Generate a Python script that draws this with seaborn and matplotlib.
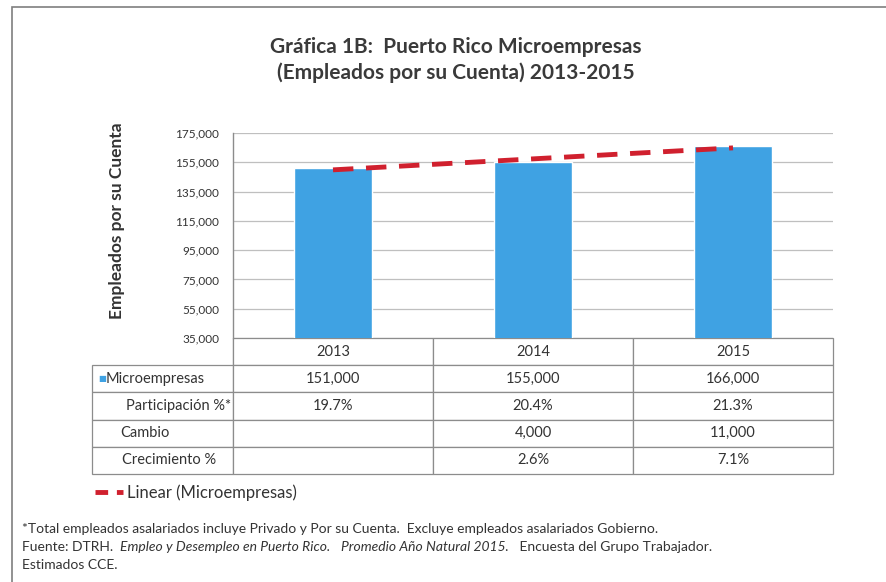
import numpy as np
import pandas as pd
import matplotlib
matplotlib.use("Agg")
import matplotlib.pyplot as plt
import seaborn as sns
from matplotlib.lines import Line2D
from matplotlib.patches import Rectangle

years = ["2013", "2014", "2015"]
microempresas = [151000, 155000, 166000]
participacion = ["19.7%", "20.4%", "21.3%"]
cambio = ["", "4,000", "11,000"]
crecimiento = ["", "2.6%", "7.1%"]
row_labels = ["Microempresas", "Participación %*", "Cambio", "Crecimiento %"]
yticks = list(range(35000, 175001, 20000))

bar_color = "#3FA2E3"
trend_color = "#D0202E"
grid_color = "#BFBFBF"
text_color = "#333333"

sns.set_theme(style="white")
plt.rcParams["font.family"] = ["Lato", "DejaVu Sans"]

df = pd.DataFrame({"Year": years, "Microempresas": microempresas})

fig = plt.figure(figsize=(8.87, 5.82), dpi=100)
ax = fig.add_axes([233 / 887, 1 - 338 / 582, 600 / 887, 205 / 582])

sns.barplot(data=df, x="Year", y="Microempresas", color=bar_color,
            width=0.39, saturation=1, ax=ax, zorder=2)

# linear trendline (Excel style)
xs = np.arange(len(years))
slope, intercept = np.polyfit(xs, microempresas, 1)
ax.plot(xs, slope * xs + intercept, color=trend_color, lw=3.5,
        dashes=(4.2, 2.6), zorder=3)

ax.set_xlim(-0.5, len(years) - 0.5)
ax.set_ylim(35000, 175000)
ax.set_yticks(yticks)
ax.set_yticklabels([f"{v:,}" for v in yticks], fontsize=8.5, color=text_color)
ax.tick_params(axis="y", length=0, pad=10)
ax.set_xticks([])
ax.set_xlabel("")
ax.set_ylabel("Empleados por su Cuenta", fontsize=12.5, fontweight="bold",
              color=text_color)
ax.yaxis.set_label_coords(-0.18, 0.57)
ax.grid(axis="y", color=grid_color, lw=0.9, zorder=0)
ax.set_axisbelow(True)
for s in ["top", "right", "bottom"]:
    ax.spines[s].set_visible(False)
ax.spines["left"].set_color("#8C8C8C")
ax.spines["left"].set_linewidth(1)

# data table under the plot
cell_text = [[""] + years,
             [row_labels[0]] + [f"{v:,}" for v in microempresas],
             [row_labels[1]] + participacion,
             [row_labels[2]] + cambio,
             [row_labels[3]] + crecimiento]
tbl = ax.table(cellText=cell_text, colWidths=[141, 200, 200, 200],
               cellLoc="center", bbox=[-141 / 600, -136 / 205, 741 / 600, 136 / 205])
tbl.auto_set_font_size(False)
tbl.set_fontsize(10.5)
pads = {1: 0.1, 2: 0.24, 3: 0.2, 4: 0.21}
for (r, c), cell in tbl.get_celld().items():
    cell.set_edgecolor("#8C8C8C")
    cell.set_linewidth(0.9)
    cell.get_text().set_color(text_color)
    if c == 0:
        if r == 0:
            cell.visible_edges = "R"
        else:
            cell._loc = "left"
            cell.PAD = pads[r]
            cell.get_text().set_ha("left")

# small legend key inside table
ax.text(-135 / 600, -40.5 / 205, "■", transform=ax.transAxes, fontsize=6,
        color=bar_color, va="center", ha="left")

# legend for trendline
handle = Line2D([], [], color=trend_color, lw=3.5, dashes=(2.6, 1.8))
fig.legend(handles=[handle], labels=["Linear (Microempresas)"], loc="center left",
           bbox_to_anchor=(95 / 887, 1 - 493 / 582), frameon=False, fontsize=12,
           handlelength=1.7, handletextpad=0.2, borderpad=0, borderaxespad=0,
           labelcolor=text_color)

# title
fig.text(456 / 887, 1 - 60 / 582,
         "Gráfica 1B:  Puerto Rico Microempresas\n(Empleados por su Cuenta) 2013-2015",
         ha="center", va="center", fontsize=15, fontweight="bold",
         color="#3A3A3A", linespacing=1.3)

# footnotes
fs = 10
fig.text(22 / 887, 1 - 529 / 582,
         "*Total empleados asalariados incluye Privado y Por su Cuenta.  "
         "Excluye empleados asalariados Gobierno.",
         fontsize=fs, color=text_color, va="center")
pieces = [("Fuente: DTRH.  ", "normal"), ("Empleo y Desempleo en Puerto Rico.", "italic"),
          ("   ", "normal"), ("Promedio Año Natural 2015.", "italic"),
          ("   Encuesta del Grupo Trabajador.", "normal")]
fig.canvas.draw()
renderer = fig.canvas.get_renderer()
x_cur = 22
for txt, style in pieces:
    t = fig.text(x_cur / fig.bbox.width, 1 - 547 / 582, txt, fontsize=fs,
                 color=text_color, style=style, va="center")
    x_cur = t.get_window_extent(renderer).x1
fig.text(22 / 887, 1 - 565 / 582, "Estimados CCE.", fontsize=fs,
         color=text_color, va="center")

# outer chart border
fig.patches.append(Rectangle((12 / 887, -0.02), 1.0, (582 - 7) / 582 + 0.02,
                             transform=fig.transFigure, fill=False,
                             edgecolor="#7F7F7F", lw=1.2))

fig.savefig("out.png", dpi=100)
